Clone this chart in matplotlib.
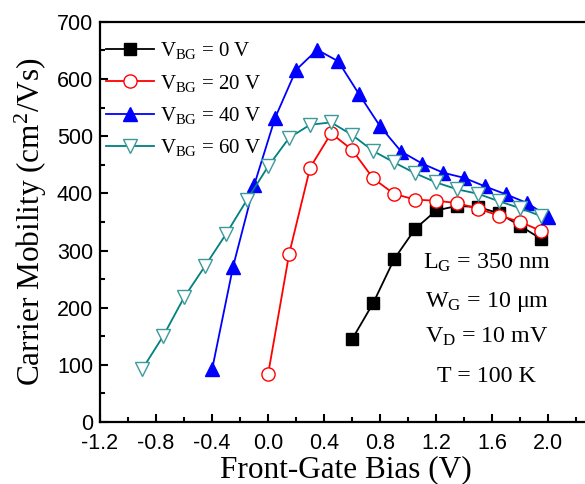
import matplotlib
matplotlib.use("Agg")
import matplotlib.pyplot as plt
from matplotlib.ticker import MultipleLocator

# ------------------------------------------------
# Data
# ------------------------------------------------

x_0v = [0.6, 0.75, 0.9, 1.05, 1.2, 1.35, 1.5, 1.65, 1.8, 1.95]
mu_0v = [145, 208, 285, 338, 370, 378, 376, 365, 343, 320]

x_20v = [0.0, 0.15, 0.3, 0.45, 0.6, 0.75, 0.9, 1.05, 1.2, 1.35, 1.5, 1.65, 1.8, 1.95]
mu_20v = [84, 294, 445, 505, 476, 426, 399, 389, 387, 383, 373, 361, 350, 334]

x_40v = [-0.4, -0.25, -0.1, 0.05, 0.2, 0.35, 0.5, 0.65, 0.8, 0.95,
         1.1, 1.25, 1.4, 1.55, 1.7, 1.85, 2.0]
mu_40v = [92, 272, 414, 532, 616, 651, 631, 573, 517, 473,
          452, 436, 427, 412, 398, 383, 359]

x_60v = [-0.9, -0.75, -0.6, -0.45, -0.3, -0.15, 0.0, 0.15, 0.3, 0.45,
         0.6, 0.75, 0.9, 1.05, 1.2, 1.35, 1.5, 1.65, 1.8, 1.95]
mu_60v = [92, 150, 218, 273, 329, 389, 447, 497, 520, 524,
          502, 474, 454, 435, 419, 407, 399, 386, 374, 360]

labels = [r"V$_{\rm BG}$ = 0 V", r"V$_{\rm BG}$ = 20 V",
          r"V$_{\rm BG}$ = 40 V", r"V$_{\rm BG}$ = 60 V"]

x_ticks = [-1.2, -0.8, -0.4, 0.0, 0.4, 0.8, 1.2, 1.6, 2.0]

notes = ["L$_{\\rm G}$ = 350 nm", "W$_{\\rm G}$ = 10 \u03bcm",
         "V$_{\\rm D}$ = 10 mV", "T = 100 K"]

# ------------------------------------------------
# Style
# ------------------------------------------------

plt.rcParams["mathtext.fontset"] = "custom"
plt.rcParams["mathtext.rm"] = "Liberation Serif"
plt.rcParams["mathtext.it"] = "Liberation Serif:italic"
plt.rcParams["xtick.direction"] = "in"
plt.rcParams["ytick.direction"] = "in"

serif = "Liberation Serif"
sans = "Liberation Sans"

fig = plt.figure(figsize=(5.85, 4.84), dpi=100)
ax = fig.add_axes([0.171, 0.128, 0.862, 0.827])

ax.plot(x_0v, mu_0v, color="black", marker="s", ms=8, lw=1.3,
        label=labels[0])
ax.plot(x_20v, mu_20v, color="red", marker="o", ms=9.5, lw=1.3,
        mfc="white", mec="red", label=labels[1])
ax.plot(x_40v, mu_40v, color="blue", marker="^", ms=10, lw=1.3,
        label=labels[2])
ax.plot(x_60v, mu_60v, color="#008080", marker="v", ms=10, lw=1.3,
        mfc="white", mec="#3d9a9a", label=labels[3])

ax.set_xlim(-1.2, 2.4)
ax.set_ylim(0, 700)
ax.set_xticks(x_ticks)
ax.set_xticklabels([f"{v:.1f}" for v in x_ticks])
ax.xaxis.set_minor_locator(MultipleLocator(0.2))
ax.yaxis.set_major_locator(MultipleLocator(100))
ax.yaxis.set_minor_locator(MultipleLocator(50))

ax.tick_params(which="major", length=6, width=1.5, labelsize=15.5)
ax.tick_params(axis="x", which="major", pad=8)
ax.tick_params(axis="y", which="major", pad=5)
ax.tick_params(which="minor", length=3.5, width=1.5)
for lab in ax.get_xticklabels() + ax.get_yticklabels():
    lab.set_fontfamily(sans)
for sp in ax.spines.values():
    sp.set_linewidth(1.6)

ax.set_xlabel("Front-Gate Bias (V)", fontsize=22.5, fontfamily=serif, labelpad=1)
ax.xaxis.set_label_coords(0.488, -0.082, transform=ax.transAxes)
ax.xaxis.label.set_va("top")
ax.set_ylabel("Carrier Mobility (cm$^{2}$/Vs)", fontsize=22.5, fontfamily=serif,
              labelpad=6)

ax.legend(loc="upper left", frameon=False, handlelength=2.3,
          handletextpad=0.3, labelspacing=0.55,
          bbox_to_anchor=(-0.005, 0.975), borderaxespad=0.0,
          prop={"family": serif, "size": 15})

note_y = [269, 201, 138, 70]
for txt, yy in zip(notes, note_y):
    ax.text(1.56, yy, txt, ha="center", va="baseline", fontsize=17.3,
            fontfamily=serif)

fig.savefig("out.png", dpi=100)
